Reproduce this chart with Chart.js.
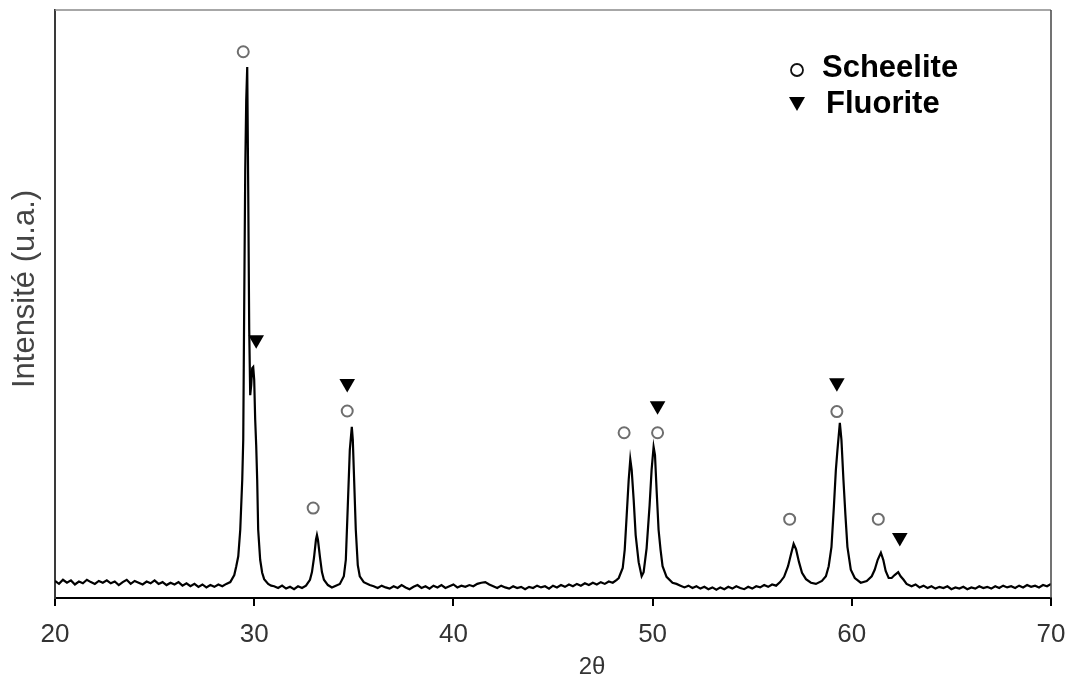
<!DOCTYPE html>
<html>
<head>
<meta charset="utf-8">
<script src="https://cdn.jsdelivr.net/npm/chart.js@4/dist/chart.umd.min.js"></script>
<style>
  html, body { margin: 0; padding: 0; background: #fff; }
  #wrap { width: 1068px; height: 690px; position: relative; }
</style>
</head>
<body>
<div id="wrap"><canvas id="xrd"></canvas></div>
<script>
// diffractogram: [2theta, counts]
const scan = [
  [20.0, 29], [20.2, 24], [20.4, 31], [20.6, 26], [20.8, 30], [21.0, 23], [21.2, 28], [21.4, 25], [21.6, 31], [21.8, 27],
  [22.0, 24], [22.2, 29], [22.4, 26], [22.6, 30], [22.8, 25], [23.0, 28], [23.2, 22], [23.4, 27], [23.6, 31], [23.8, 24],
  [24.0, 29], [24.2, 26], [24.4, 23], [24.6, 28], [24.8, 25], [25.0, 30], [25.2, 24], [25.4, 27], [25.6, 22], [25.8, 26],
  [26.0, 23], [26.2, 27], [26.4, 21], [26.6, 25], [26.8, 20], [27.0, 24], [27.2, 19], [27.4, 23], [27.6, 18], [27.8, 22],
  [28.0, 19], [28.2, 23], [28.4, 20], [28.6, 24], [28.8, 27],
  [29.0, 39], [29.1, 54], [29.2, 71], [29.3, 116], [29.4, 201], [29.45, 269], [29.5, 507], [29.55, 728], [29.6, 847], [29.65, 903],
  [29.7, 694], [29.75, 456], [29.8, 345], [29.85, 362], [29.9, 391], [29.95, 393], [30.0, 371], [30.05, 303], [30.1, 260], [30.15, 201],
  [30.2, 116], [30.3, 65], [30.4, 43], [30.5, 32], [30.7, 24], [30.85, 21],
  [31.0, 20], [31.2, 17], [31.4, 21], [31.6, 16], [31.8, 19], [32.0, 15], [32.2, 20], [32.4, 17], [32.6, 21],
  [32.8, 31], [32.9, 44], [33.0, 68], [33.1, 99], [33.15, 107], [33.2, 99], [33.3, 70], [33.4, 44], [33.5, 31],
  [33.7, 22], [33.9, 18], [34.1, 21], [34.3, 24],
  [34.5, 37], [34.6, 65], [34.7, 158], [34.8, 252], [34.9, 291], [34.95, 269], [35.0, 218], [35.1, 116], [35.2, 56], [35.3, 37],
  [35.5, 27], [35.8, 22],
  [36.0, 20], [36.2, 17], [36.4, 21], [36.6, 18], [36.8, 16], [37.0, 20], [37.2, 17], [37.4, 22], [37.6, 18], [37.8, 15],
  [38.0, 19], [38.2, 22], [38.4, 17], [38.6, 20], [38.8, 16], [39.0, 21], [39.2, 18], [39.4, 22], [39.6, 17], [39.8, 20],
  [40.0, 23], [40.2, 18], [40.4, 21], [40.6, 19], [40.8, 22], [41.0, 20], [41.2, 24], [41.4, 26], [41.6, 27], [41.8, 23],
  [42.0, 20], [42.2, 17], [42.4, 21], [42.6, 18], [42.8, 16], [43.0, 20], [43.2, 17], [43.4, 19], [43.6, 15], [43.8, 19],
  [44.0, 17], [44.2, 21], [44.4, 18], [44.6, 20], [44.8, 16], [45.0, 21], [45.2, 18], [45.4, 22], [45.6, 19], [45.8, 23],
  [46.0, 20], [46.2, 24], [46.4, 21], [46.6, 25], [46.8, 22], [47.0, 26], [47.2, 23], [47.4, 27], [47.6, 24], [47.8, 28],
  [48.0, 26], [48.2, 31],
  [48.3, 34], [48.5, 51], [48.6, 82], [48.7, 141], [48.8, 201], [48.88, 236], [48.95, 218], [49.05, 167], [49.15, 107], [49.3, 61],
  [49.45, 37], [49.55, 44], [49.7, 85], [49.85, 158], [49.95, 218], [50.05, 257], [50.12, 243], [50.2, 184], [50.3, 116], [50.4, 82],
  [50.5, 54], [50.7, 36], [51.0, 26],
  [51.2, 24], [51.4, 21], [51.6, 18], [51.8, 21], [52.0, 17], [52.2, 20], [52.4, 16], [52.6, 19], [52.8, 15], [53.0, 18],
  [53.2, 14], [53.4, 18], [53.6, 15], [53.8, 19], [54.0, 16], [54.2, 20], [54.4, 17], [54.6, 15], [54.8, 19], [55.0, 16],
  [55.2, 20], [55.4, 18], [55.6, 22], [55.8, 19], [56.0, 23], [56.2, 21],
  [56.4, 27], [56.6, 36], [56.8, 54], [56.95, 75], [57.08, 92], [57.2, 83], [57.35, 61], [57.5, 43], [57.7, 32], [57.95, 26],
  [58.2, 24], [58.5, 29], [58.7, 37], [58.84, 54], [58.98, 87], [59.1, 155], [59.2, 218], [59.28, 252], [59.4, 298], [59.48, 269],
  [59.58, 201], [59.68, 141], [59.78, 87], [59.95, 48], [60.15, 34], [60.45, 26], [60.75, 29], [61.0, 37], [61.15, 48], [61.3, 65],
  [61.46, 77], [61.58, 65], [61.7, 46], [61.85, 34], [62.0, 34], [62.15, 39], [62.33, 44], [62.45, 37], [62.6, 31], [62.75, 24],
  [63.0, 20], [63.2, 23], [63.4, 18], [63.6, 21], [63.8, 17], [64.0, 20], [64.2, 16], [64.4, 19], [64.6, 17], [64.8, 20],
  [65.0, 15], [65.2, 18], [65.4, 16], [65.6, 19], [65.8, 15], [66.0, 18], [66.2, 16], [66.4, 20], [66.6, 17], [66.8, 19],
  [67.0, 16], [67.2, 20], [67.4, 17], [67.6, 21], [67.8, 18], [68.0, 20], [68.2, 17], [68.4, 21], [68.6, 18], [68.8, 22],
  [69.0, 19], [69.2, 21], [69.4, 18], [69.6, 22], [69.8, 20], [70.0, 24],
];

// phase markers above the peaks
const scheeliteAngles = [29.45, 32.96, 34.67, 48.57, 50.25, 56.88, 59.25, 61.33];
const scheeliteHeights = [929, 153, 318, 281, 281, 134, 317, 134];
const fluoriteAngles = [30.10, 34.67, 50.25, 59.25, 62.41];
const fluoriteHeights = [439, 365, 327, 366, 103];

const xTicks = [20, 30, 40, 50, 60, 70];
const xTitle = '2θ';
const yTitle = 'Intensité (u.a.)';
const phaseNames = ['Scheelite', 'Fluorite'];

const FONT = "'Liberation Sans', Arial, sans-serif";

const toPoints = (xs, ys) => xs.map((x, i) => ({ x, y: ys[i] }));

// frame, axis titles and the phase key
const decorations = {
  id: 'decorations',
  afterDraw(chart) {
    const { ctx, chartArea: a } = chart;
    ctx.save();
    ctx.strokeStyle = '#8a8a8a';
    ctx.lineWidth = 1.5;
    ctx.beginPath();
    ctx.moveTo(a.left, a.top);
    ctx.lineTo(a.right, a.top);
    ctx.stroke();
    ctx.strokeStyle = '#444';
    ctx.beginPath();
    ctx.moveTo(a.right, a.top);
    ctx.lineTo(a.right, a.bottom);
    ctx.stroke();

    ctx.fillStyle = '#333';
    ctx.font = `24px ${FONT}`;
    ctx.textAlign = 'center';
    ctx.textBaseline = 'middle';
    ctx.fillText(xTitle, 592, 667);

    ctx.save();
    ctx.translate(25, 289);
    ctx.rotate(-Math.PI / 2);
    ctx.fillStyle = '#444';
    ctx.font = `31px ${FONT}`;
    ctx.fillText(yTitle, 0, 0);
    ctx.restore();

    // key
    ctx.strokeStyle = '#111';
    ctx.lineWidth = 1.8;
    ctx.beginPath();
    ctx.arc(797, 70, 6, 0, Math.PI * 2);
    ctx.stroke();
    ctx.fillStyle = '#000';
    ctx.beginPath();
    ctx.moveTo(789, 97);
    ctx.lineTo(805, 97);
    ctx.lineTo(797, 111);
    ctx.closePath();
    ctx.fill();

    ctx.font = `bold 31px ${FONT}`;
    ctx.textAlign = 'left';
    ctx.fillStyle = '#000';
    ctx.fillText(phaseNames[0], 822, 68);
    ctx.fillText(phaseNames[1], 826, 104);
    ctx.restore();
  },
};

new Chart(document.getElementById('xrd'), {
  type: 'scatter',
  data: {
    datasets: [
      {
        label: 'scan',
        data: scan.map(([x, y]) => ({ x, y })),
        showLine: true,
        borderColor: '#000',
        borderWidth: 2.2,
        pointRadius: 0,
        tension: 0,
        order: 3,
      },
      {
        label: phaseNames[0],
        data: toPoints(scheeliteAngles, scheeliteHeights),
        pointStyle: 'circle',
        pointRadius: 5.5,
        pointBorderWidth: 2,
        pointBorderColor: '#6e6e6e',
        pointBackgroundColor: '#fff',
        order: 1,
      },
      {
        label: phaseNames[1],
        data: toPoints(fluoriteAngles, fluoriteHeights),
        pointStyle: 'triangle',
        rotation: 180,
        pointRadius: 9,
        pointBorderWidth: 0,
        pointBackgroundColor: '#000',
        pointBorderColor: '#000',
        order: 2,
      },
    ],
  },
  options: {
    responsive: true,
    maintainAspectRatio: false,
    animation: false,
    layout: { padding: { top: 10, right: 17, left: 0, bottom: 0 } },
    plugins: {
      legend: { display: false },
      tooltip: { enabled: false },
    },
    scales: {
      x: {
        type: 'linear',
        min: 20,
        max: 70,
        afterBuildTicks: scale => { scale.ticks = xTicks.map(value => ({ value })); },
        afterFit: scale => {
          scale.height = 92;
          scale.paddingRight = 0;
          scale.paddingLeft = 0;
        },
        ticks: {
          font: { family: FONT, size: 26 },
          color: '#333',
          padding: 13,
        },
        grid: {
          drawOnChartArea: false,
          drawTicks: true,
          tickLength: 8,
          color: '#000',
          lineWidth: 2,
        },
        border: { color: '#000', width: 2 },
      },
      y: {
        min: 0,
        max: 1000,
        afterFit: scale => { scale.width = 55; },
        ticks: { display: false },
        grid: { display: false },
        border: { color: '#3a3a3a', width: 2 },
      },
    },
  },
  plugins: [decorations],
});
</script>
</body>
</html>
